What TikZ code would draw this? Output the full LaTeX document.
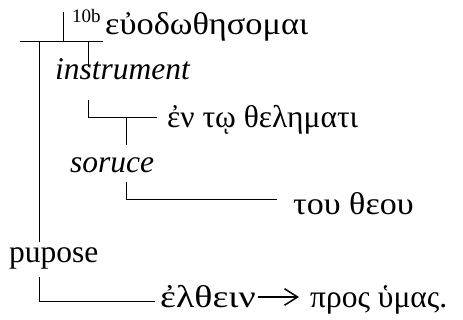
\documentclass[tikz,border=0pt]{standalone}
\usepackage{fontspec}
\setmainfont{Liberation Serif}
\usetikzlibrary{arrows.meta,positioning}
\newcommand\widen[2]{\scalebox{#1}[1]{#2}}
\tikzset{
  >={Straight Barb[length=4.6mm,width=5.8mm]},
  word/.style={anchor=base west,inner sep=0pt,font=\fontsize{31.5}{36}\selectfont},
  role/.style={word,font=\fontsize{31.5}{36}\selectfont\itshape},
  rule/.style={line width=1pt},
}
\begin{document}
\begin{tikzpicture}[x=1pt,y=-1pt]
  \useasboundingbox (0,0) rectangle (463,320);
  % words of the clause
  \node[word] (verb) at (105,35) {\widen{1.09}{εὐοδωθησομαι}};
  \node[anchor=base west,inner sep=0pt,font=\fontsize{19}{22}\selectfont] (ref) at (72,23) {10b};
  \node[role] (instr) at (55,80) {instrument};
  \node[word] (will) at (167,128) {ἐν τῳ θεληματι};
  \node[role] (source) at (70,173) {soruce};
  \node[word] (god) at (293,215) {\widen{1.08}{του θεου}};
  \node[word] (purpose) at (9,263) {pupose};
  \node[word] (come) at (160,308) {\widen{1.2}{ἐλθειν}};
  \node[word] (you) at (310,308) {προς ὑμας.};
  % junction points of the base lines
  \coordinate (base w) at (20,41.5);
  \coordinate (base e) at (103,41.5);
  \coordinate (tick) at (63,12);
  \coordinate (spine) at (39.5,41.5);
  \coordinate (spine end) at (39.5,242);
  \coordinate (instr top) at (88.5,41.5);
  \coordinate (instr end) at (88.5,67);
  \coordinate (will in) at (88.5,100);
  \coordinate (will e) at (157,118);
  \coordinate (source top) at (126,118);
  \coordinate (source end) at (126,145);
  \coordinate (god in) at (126,182);
  \coordinate (god e) at (277,200);
  \coordinate (come in) at (39.5,277);
  \coordinate (come e) at (155,301);
  % main line and its branches
  \draw[rule] (base w) -- (base e);
  \draw[rule] (tick) -- (tick |- base w);
  \draw[rule] (spine) -- (spine end);
  \draw[rule] (instr top) -- (instr end);
  \draw[rule] (will in) |- (will e);
  \draw[rule] (source top) -- (source end);
  \draw[rule] (god in) |- (god e);
  \draw[rule] (come in) |- (come e);
  \draw[rule,line width=1.5pt,->] ([xshift=2pt,yshift=11pt]come.base east) -- ([xshift=-11pt,yshift=11pt]you.base west);
\end{tikzpicture}
\end{document}
